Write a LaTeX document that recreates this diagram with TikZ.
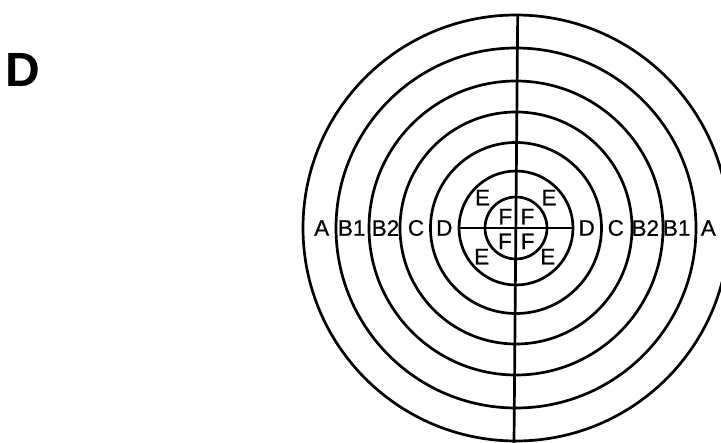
\documentclass[tikz,border=0pt]{standalone}
\usepackage{fontspec}
\setmainfont{Liberation Sans}
\newfontfamily\lblfont[FakeBold=0.6]{Liberation Sans}
\begin{document}
\begin{tikzpicture}[x=1pt,y=-1pt,
  ring/.style={line width=2.7pt},
  axis/.style={line width=2.7pt},
  lbl/.style={inner sep=0pt,anchor=center,font=\lblfont\fontsize{22.5}{22.5}\selectfont},
  panel/.style={inner sep=0pt,anchor=center,font=\fontsize{48}{48}\selectfont\bfseries}]
\useasboundingbox (0,0) rectangle (721,443);
\begin{scope}
\clip (0,0) rectangle (721,443);
\coordinate (ctr) at (516,228);
\foreach \r in {31,57,85.5,116,147,180,213}
  \draw[ring] (ctr) circle[radius=\r pt];
\coordinate (vtop) at (517.7,14);
\coordinate (vbot) at (514,443);
\draw[axis] (vtop) -- (vbot);
\coordinate (hl) at (459,228);
\coordinate (hr) at (573,228);
\draw[axis] (hl) -- (hr);
\end{scope}
\node[panel] (panelD) at (22.8,70) {D};
% left labels
\node[lbl] (A1) at (321.7,228) {A};
\node[lbl] (B11) at (351.7,228) {B1};
\node[lbl] (B21) at (385.5,228) {B2};
\node[lbl] (C1) at (416,228) {C};
\node[lbl] (D1) at (444.3,228) {D};
% right labels
\node[lbl] (D2) at (586.7,228) {D};
\node[lbl] (C2) at (615.8,228) {C};
\node[lbl] (B22) at (645.3,228) {B2};
\node[lbl] (B12) at (676.7,228) {B1};
\node[lbl] (A2) at (708.3,228) {A};
% E labels
\node[lbl] (E1) at (482.5,197.7) {E};
\node[lbl] (E2) at (549,197.7) {E};
\node[lbl] (E3) at (481.7,256.7) {E};
\node[lbl] (E4) at (547.8,256.7) {E};
% F labels
\node[lbl] (F1) at (505.3,216.7) {F};
\node[lbl] (F2) at (527.5,216.7) {F};
\node[lbl] (F3) at (505,241.3) {F};
\node[lbl] (F4) at (527.7,241.3) {F};
\end{tikzpicture}
\end{document}
